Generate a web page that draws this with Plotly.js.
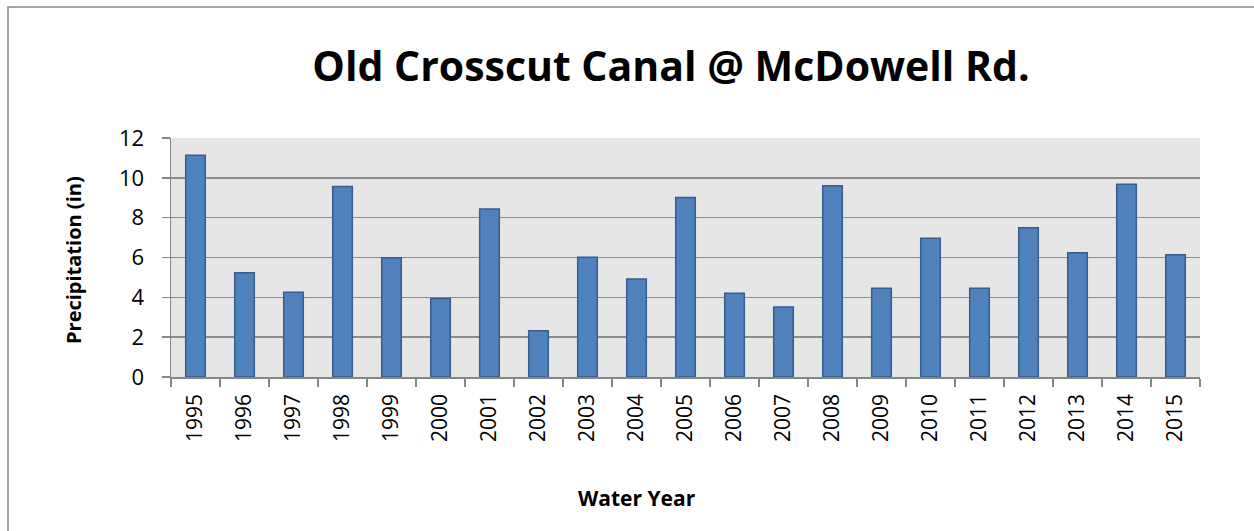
<!DOCTYPE html>
<html>
<head>
<meta charset="utf-8">
<script src="https://cdn.plot.ly/plotly-3.0.1.min.js"></script>
<style>html,body{margin:0;padding:0;background:#fff;}#chart{width:1254px;height:531px;}</style>
</head>
<body>
<div id="chart"></div>
<script>
const years = ["1995","1996","1997","1998","1999","2000","2001","2002","2003","2004","2005","2006","2007","2008","2009","2010","2011","2012","2013","2014","2015"];
const precipitation = [11.13,5.24,4.25,9.57,5.99,3.94,8.44,2.32,6.01,4.92,9.01,4.21,3.51,9.60,4.45,6.97,4.45,7.49,6.24,9.68,6.14];
const yTicks = [0,2,4,6,8,10,12];
const chartTitle = "Old Crosscut Canal @ McDowell Rd.";
const xTitle = "Water Year";
const yTitle = "Precipitation (in)";

const font = "'Open Sans', Lato, sans-serif";
const W = 1254, H = 531;
const m = {l:171, r:54, t:138, b:154};
const pw = W - m.l - m.r, ph = H - m.t - m.b;
const px = v => (v - m.l) / pw;          // page x -> paper
const py = v => 1 - (v - m.t) / ph;      // page y -> paper

const trace = {
  type: "bar",
  x: years,
  y: precipitation,
  marker: {color: "#4f81bd", line: {color: "#385d8a", width: 1.5}},
  hoverinfo: "x+y"
};

const layout = {
  width: W, height: H,
  margin: m,
  paper_bgcolor: "#ffffff",
  plot_bgcolor: "#e6e6e6",
  bargap: 0.6,
  showlegend: false,
  font: {family: font, color: "#000"},
  title: {text: "<b>" + chartTitle + "</b>", font: {family: font, size: 41, color: "#000"},
          x: 671 / W, xanchor: "center", y: 1 - 67 / H, yanchor: "middle"},
  xaxis: {
    type: "category",
    tickangle: -90,
    tickfont: {family: font, size: 21, color: "#000"},
    ticks: "outside", tickson: "boundaries", ticklen: 8, tickcolor: "#868686", tickwidth: 1.5,
    ticklabelstandoff: 7,
    showline: true, linecolor: "#868686", linewidth: 1.5,
    showgrid: false, zeroline: false
  },
  yaxis: {
    range: [0, 12],
    tickvals: yTicks,
    tickfont: {family: font, size: 22, color: "#000"},
    ticks: "outside", ticklen: 8, tickcolor: "#868686", tickwidth: 1.5,
    ticklabelstandoff: 13,
    showline: true, linecolor: "#868686", linewidth: 1.5,
    showgrid: true, gridcolor: "#8c8c8c", gridwidth: 1.5,
    zeroline: false
  },
  annotations: [
    {text: "<b>" + xTitle + "</b>", xref: "paper", yref: "paper", x: px(637), y: py(498),
     xanchor: "center", yanchor: "middle", showarrow: false, font: {family: font, size: 21, color: "#000"}},
    {text: "<b>" + yTitle + "</b>", xref: "paper", yref: "paper", x: px(73), y: py(260),
     xanchor: "center", yanchor: "middle", textangle: -90, showarrow: false, font: {family: font, size: 20, color: "#000"}}
  ],
  shapes: [{
    type: "rect", xref: "paper", yref: "paper",
    x0: px(8), x1: px(W + 10),
    y0: py(H + 10), y1: py(7),
    line: {color: "#868686", width: 1.5}, fillcolor: "rgba(0,0,0,0)", layer: "below"
  }]
};

Plotly.newPlot("chart", [trace], layout, {displayModeBar: false, staticPlot: true});
</script>
</body>
</html>
